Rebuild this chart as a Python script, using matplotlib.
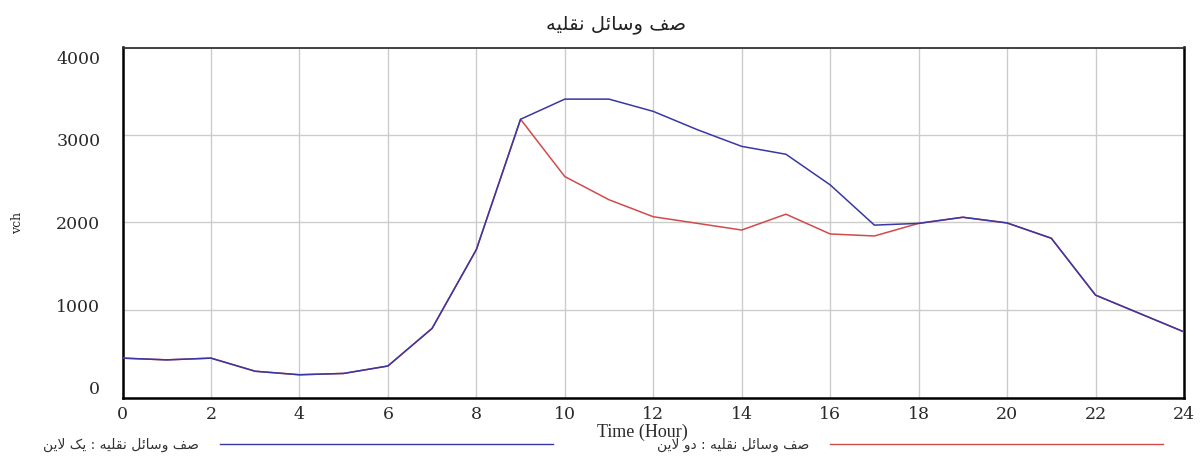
import matplotlib
matplotlib.use("Agg")
import matplotlib.pyplot as plt
from matplotlib.transforms import ScaledTranslation

# ---------------- data ----------------
hours = list(range(0, 25))
one_lane = [450, 430, 450, 300, 260, 275, 360, 790, 1690, 3180, 3410, 3410, 3270,
            3060, 2870, 2780, 2430, 1970, 1990, 2060, 1995, 1820, 1170, 960, 750]
two_lane = [450, 430, 450, 300, 260, 275, 360, 790, 1690, 3180, 2525, 2260, 2066,
            1990, 1914, 2095, 1869, 1846, 1990, 2060, 1995, 1820, 1170, 960, 750]
x_ticks = list(range(0, 25, 2))
y_ticks = [0, 1000, 2000, 3000, 4000]

title_text = "صف وسائل نقلیه"
label_one = "صف وسائل نقلیه : یک لاین"
label_two = "صف وسائل نقلیه : دو لاین"
x_label = "Time (Hour)"
y_label = "vch"

# ---------- minimal Arabic/Persian shaping (matplotlib has no CTL) ----------
FORMS = {
    'ص': ('\uFEB9', '\uFEBA', '\uFEBB', '\uFEBC'),
    'ف': ('\uFED1', '\uFED2', '\uFED3', '\uFED4'),
    'و': ('\uFEED', '\uFEEE', None, None),
    'س': ('\uFEB1', '\uFEB2', '\uFEB3', '\uFEB4'),
    'ا': ('\uFE8D', '\uFE8E', None, None),
    'ئ': ('\uFE89', '\uFE8A', '\uFE8B', '\uFE8C'),
    'ل': ('\uFEDD', '\uFEDE', '\uFEDF', '\uFEE0'),
    'ن': ('\uFEE5', '\uFEE6', '\uFEE7', '\uFEE8'),
    'ق': ('\uFED5', '\uFED6', '\uFED7', '\uFED8'),
    'ی': ('\uFBFC', '\uFBFD', '\uFBFE', '\uFBFF'),
    'ه': ('\uFEE9', '\uFEEA', '\uFEEB', '\uFEEC'),
    'ک': ('\uFB8E', '\uFB8F', '\uFB90', '\uFB91'),
    'د': ('\uFEA9', '\uFEAA', None, None),
    'لا': ('\uFEFB', '\uFEFC', None, None),
}


def shape(s):
    toks = []
    i = 0
    while i < len(s):
        if s[i] == 'ل' and i + 1 < len(s) and s[i + 1] == 'ا':
            toks.append('لا')
            i += 2
        else:
            toks.append(s[i])
            i += 1
    out = []
    for k, t in enumerate(toks):
        if t not in FORMS:
            out.append(t)
            continue
        f = FORMS[t]
        prev = toks[k - 1] if k > 0 else None
        nxt = toks[k + 1] if k + 1 < len(toks) else None
        pj = prev in FORMS and FORMS[prev][2] is not None
        nj = nxt in FORMS and f[2] is not None
        if pj and nj:
            out.append(f[3])
        elif pj:
            out.append(f[1])
        elif nj:
            out.append(f[2])
        else:
            out.append(f[0])
    return ''.join(out)[::-1]


# ---------------- figure ----------------
W, H = 1202, 466
fig = plt.figure(figsize=(W / 100, H / 100), dpi=100)
ax = fig.add_axes([122.5 / W, 1 - 397.5 / H, (1184 - 122.5) / W, (397.5 - 47.5) / H])

blue = '#3838a4'
red = '#d24a4a'

ax.plot(hours, two_lane, color=red, lw=1.1, zorder=3)
ax.plot(hours, one_lane, color=blue, lw=1.1, zorder=4)

ax.set_xlim(0, 24)
ax.set_ylim(0, 4000)
ax.set_xticks(x_ticks)
ax.set_yticks(y_ticks)
ax.set_xticklabels([str(v) for v in x_ticks])
ax.set_yticklabels([str(v) for v in y_ticks])
ax.grid(True, color='#cccccc', lw=1.0, zorder=0)
ax.set_axisbelow(True)
ax.tick_params(length=0, labelsize=12.5, labelcolor='#2a2a2a')
ax.tick_params(axis='y', pad=16)
ax.tick_params(axis='x', pad=6)
for lab in ax.get_xticklabels() + ax.get_yticklabels():
    lab.set_fontfamily('DejaVu Serif')

for side in ['left', 'bottom', 'right']:
    ax.spines[side].set_linewidth(1.8)
    ax.spines[side].set_color('black')
ax.spines['top'].set_linewidth(1.3)
ax.spines['top'].set_color('#333333')

ax.set_xlabel(x_label, fontfamily='Liberation Serif', fontsize=13, color='#2a2a2a', labelpad=1)
ax.xaxis.set_label_coords(0.49, -0.075)
ax.set_ylabel(y_label, fontfamily='DejaVu Serif', fontsize=9, color='#2a2a2a')
ax.yaxis.set_label_coords(-0.0925, 0.5)

ax.set_title(shape(title_text), fontfamily='DejaVu Sans', fontsize=14, color='#222222',
             x=0.465, pad=13)

h1, = ax.plot([], [], color=blue, lw=1.0)
h2, = ax.plot([], [], color=red, lw=1.0)
leg_kw = dict(frameon=False, markerfirst=False, handlelength=24, handletextpad=1.5,
              borderpad=0, borderaxespad=0, loc='center right',
              prop={'family': 'DejaVu Sans', 'size': 10})
leg1 = fig.legend([h1], [shape(label_one)], bbox_to_anchor=(553 / W, 1 - 445 / H), **leg_kw)
leg2 = fig.legend([h2], [shape(label_two)], bbox_to_anchor=(1163 / W, 1 - 445 / H), **leg_kw)
for lg in (leg1, leg2):
    for t in lg.get_texts():
        t.set_color('#333333')

# the source software spaces the y labels a little tighter than the grid
y_label_shift_px = {0: 10, 1000: 4, 2000: 0, 3000: -5, 4000: -10}
for tick, val in zip(ax.yaxis.get_major_ticks(), y_ticks):
    dy = y_label_shift_px[val] / 100.0
    tick.label1.set_transform(tick.label1.get_transform()
                              + ScaledTranslation(0, dy, fig.dpi_scale_trans))

fig.savefig('out.png', dpi=100)
